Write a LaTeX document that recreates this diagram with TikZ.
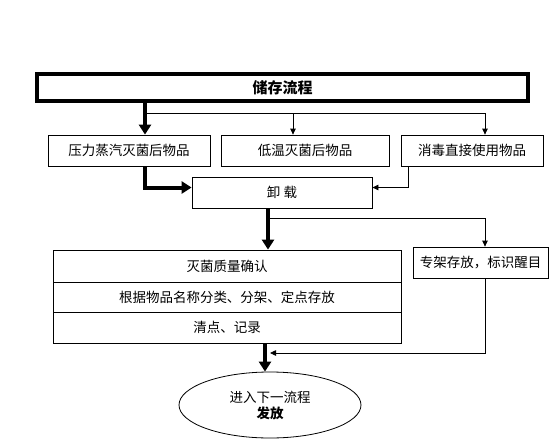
\documentclass[tikz,border=0pt]{standalone}
\usepackage{fontspec}
\setmainfont{Noto Sans CJK SC}
\usetikzlibrary{positioning, arrows.meta, calc, shapes.geometric}

\begin{document}
\begin{tikzpicture}[x=1pt, y=-1pt, font=\fontsize{13.5}{16}\selectfont,
    stepbox/.style={draw, line width=0.8pt, minimum height=31pt, inner sep=0pt, align=center},
    titlebox/.style={draw, line width=4pt, minimum width=491pt, minimum height=27pt,
      inner sep=0pt, font=\fontsize{15}{18}\selectfont\bfseries},
    rowbox/.style={draw, line width=0.8pt, minimum width=348pt, inner sep=0pt},
    endnode/.style={draw, ellipse, line width=0.8pt, minimum width=182pt, minimum height=66pt,
      inner sep=0pt, align=center},
    mainflow/.style={line width=4pt, -{Triangle[width=12pt, length=10pt]}},
    sideflow/.style={line width=0.8pt, -{Triangle[width=5.5pt, length=6pt]}}]

  \useasboundingbox (0,0) rectangle (558,448);

  % --- Titulo ---
  \node[titlebox] (title) at (282.5,87.5) {储存流程};

  % --- Tipos de objetos ---
  \node[stepbox, minimum width=162pt] (steam) at (129,150.5) {压力蒸汽灭菌后物品};
  \node[stepbox, minimum width=168pt] (lowtemp) at (305,150.5) {低温灭菌后物品};
  \node[stepbox, minimum width=142pt] (disinf) at (472,150.5) {消毒直接使用物品};

  \coordinate (splitL) at (145,113);
  \draw[mainflow] (title.south -| splitL) -- (steam.north -| splitL);
  \draw[line width=0.8pt] (splitL) -- (485,113) coordinate (splitR);
  \draw[sideflow] (293,113) coordinate (splitM) -- (lowtemp.north -| splitM);
  \draw[sideflow] (splitR) -- (disinf.north -| splitR);

  % --- Descarga ---
  \node[stepbox, minimum width=180pt] (unload) at (282,192.5) {卸\ 载};

  \draw[mainflow] (steam.south -| splitL) |- ([yshift=5pt]unload.west);
  \coordinate (disinfL) at (408,166);
  \draw[sideflow] (disinfL) |- ([yshift=5pt]unload.east);

  % --- Confirmacion y almacenaje ---
  \node[rowbox, minimum height=32pt] (check) at (227,266) {灭菌质量确认};
  \node[rowbox, minimum height=30pt] (sort) at (227,297) {根据物品名称分类、分架、定点存放};
  \node[rowbox, minimum height=31pt] (count) at (227,327.5) {清点、记录};
  \node[stepbox, minimum width=135pt] (shelf) at (480.5,262.5) {专架存放，标识醒目};

  \coordinate (unloadS) at (268,208);
  \draw[mainflow] (unloadS) -- (check.north -| unloadS);
  \draw[line width=0.8pt] (268,218) coordinate (splitU) -- (485,218) coordinate (splitS);
  \draw[sideflow] (splitS) -- (shelf.north -| splitS);

  % --- Siguiente proceso ---
  \node[endnode] (next) at (270,405) {进入下一流程\\\textbf{发放}};

  \coordinate (countS) at (265,343);
  \draw[mainflow] (countS) -- (next.north -| countS);
  \draw[sideflow] (shelf.south -| splitS) |- (270,353);
\end{tikzpicture}
\end{document}
